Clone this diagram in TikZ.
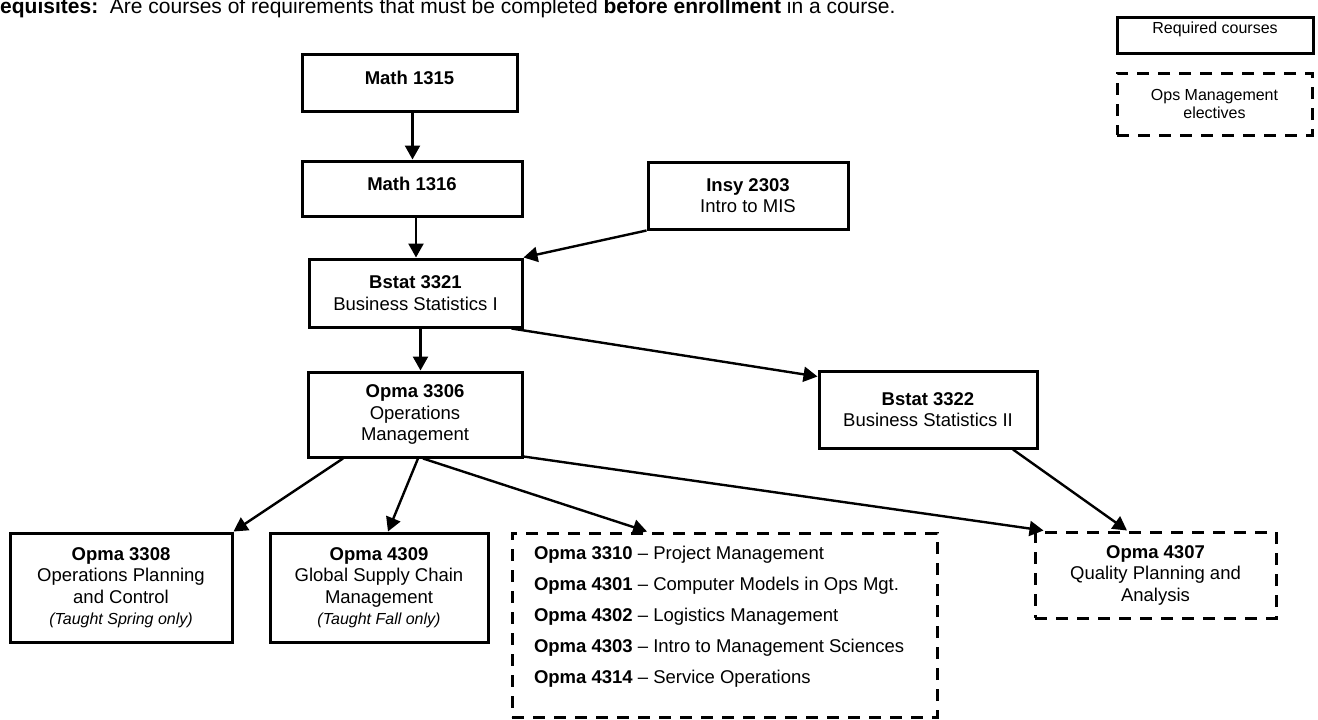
\documentclass[tikz,border=0pt]{standalone}
\usepackage{fontspec}
\setmainfont{Liberation Sans}
\usetikzlibrary{arrows.meta}
\tikzset{
  base/.style={font=\fontsize{18.5}{21.5}\selectfont, align=center, inner sep=0pt},
  reqbox/.style={base, draw, line width=3pt},
  optbox/.style={base, draw, line width=3pt, dash pattern=on 12pt off 9pt},
  arr/.style={line width=2.4pt, -{Triangle[length=14pt,width=15pt]}},
  legfont/.style={font=\fontsize{16}{17.5}\selectfont}
}
\newcommand{\notetext}[1]{{\fontsize{16}{20}\selectfont\itshape #1}}
\begin{document}
\begin{tikzpicture}[x=1pt,y=-1pt]
\useasboundingbox (0,0) rectangle (1318,720);

% title
\node[anchor=base west, inner sep=0pt, font=\fontsize{21}{24}\selectfont] (title) at (-42,13)
  {\textbf{Prerequisites:}\ \ Are courses of requirements that must be completed \textbf{before enrollment} in a course.};

% legend
\node[reqbox, legfont, minimum width=196, minimum height=36, text depth=14pt] (legreq) at (1215,35) {Required courses};
\node[optbox, legfont, minimum width=195, minimum height=62] (legopt) at (1214.5,104) {Ops Management\\electives};

% courses
\node[reqbox, minimum width=215, minimum height=57, text depth=10pt] (m1315) at (409.5,82.5) {\textbf{Math 1315}};
\node[reqbox, minimum width=220, minimum height=55, text depth=10pt] (m1316) at (412,188.5) {\textbf{Math 1316}};
\node[reqbox, minimum width=200, minimum height=67] (insy) at (748,195.5) {\textbf{Insy 2303}\\Intro to MIS};
\node[reqbox, minimum width=213, minimum height=68] (b3321) at (415.5,293) {\textbf{Bstat 3321}\\Business Statistics I};
\node[reqbox, minimum width=214, minimum height=85] (o3306) at (415,414.5) {\textbf{Opma 3306}\\Operations\\Management};
\node[reqbox, minimum width=218, minimum height=77] (b3322) at (928,409.5) {\textbf{Bstat 3322}\\Business Statistics II};
\node[reqbox, minimum width=222, minimum height=109] (o3308) at (121,587.5)
  {\textbf{Opma 3308}\\Operations Planning\\and Control\\\notetext{(Taught Spring only)}};
\node[reqbox, minimum width=218, minimum height=109] (o4309) at (379,587.5)
  {\textbf{Opma 4309}\\Global Supply Chain\\Management\\\notetext{(Taught Fall only)}};
\node[optbox, minimum width=425, minimum height=184] (elect) at (724.5,625)
  {\parbox[c][184pt][t]{381pt}{\raggedright\fontsize{18.5}{31}\selectfont\vspace*{13pt}%
   \textbf{Opma 3310} – Project Management\\
   \textbf{Opma 4301} – Computer Models in Ops Mgt.\\
   \textbf{Opma 4302} – Logistics Management\\
   \textbf{Opma 4303} – Intro to Management Sciences\\
   \textbf{Opma 4314} – Service Operations}};
\node[optbox, minimum width=241, minimum height=86] (o4307) at (1155.5,575) {\textbf{Opma 4307}\\Quality Planning and\\Analysis};

% connectors
\draw[arr] ([xshift=3]m1315.south) -- ([xshift=0.5]m1316.north);
\draw[arr] ([xshift=4]m1316.south) -- ([xshift=0.5]b3321.north);
\draw[arr] (insy.south west) -- (b3321.north east);
\draw[arr] ([xshift=5]b3321.south) -- ([xshift=5.5]o3306.north);
\draw[arr] ([xshift=-12]b3321.south east) -- ([yshift=-7]b3322.north west);
\draw[arr] ([xshift=-72]o3306.south) -- (o3308.north east);
\draw[arr] ([xshift=3]o3306.south) -- ([xshift=9]o4309.north);
\draw[arr] ([xshift=8]o3306.south) -- ([xshift=-77.5]elect.north);
\draw[arr] ([yshift=2]o3306.south east) -- ([xshift=10]o4307.north west);
\draw[arr] ([xshift=85]b3322.south) -- ([xshift=-28.5]o4307.north);
\end{tikzpicture}
\end{document}
